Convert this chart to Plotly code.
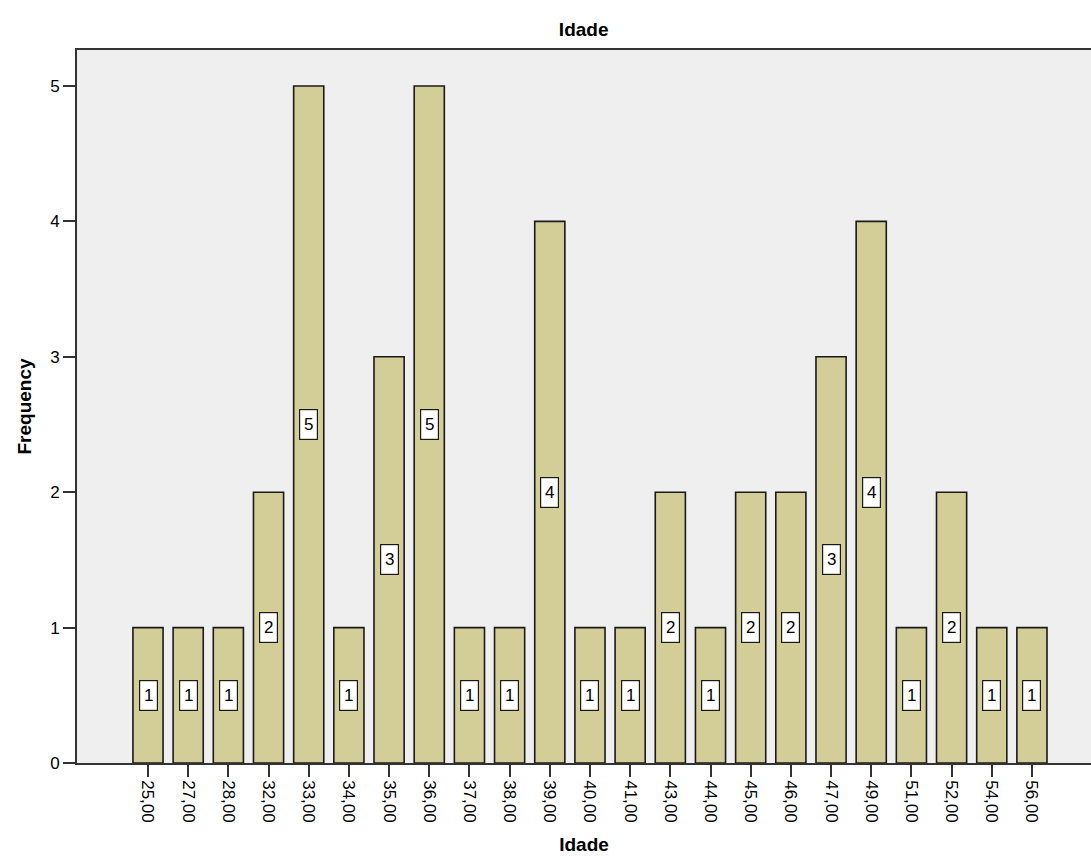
import plotly.graph_objects as go

categories = ["25,00", "27,00", "28,00", "32,00", "33,00", "34,00", "35,00", "36,00",
              "37,00", "38,00", "39,00", "40,00", "41,00", "43,00", "44,00", "45,00",
              "46,00", "47,00", "49,00", "51,00", "52,00", "54,00", "56,00"]
frequency = [1, 1, 1, 2, 5, 1, 3, 5, 1, 1, 4, 1, 1, 2, 1, 2, 2, 3, 4, 1, 2, 1, 1]
y_ticks = [0, 1, 2, 3, 4, 5]

FONT = "Liberation Sans, Arial, sans-serif"

fig = go.Figure()
fig.add_trace(go.Bar(
    x=categories, y=frequency,
    marker=dict(color="#D3CE97", line=dict(color="#1a1a1a", width=1.6)),
    hoverinfo="x+y",
))

for c, v in zip(categories, frequency):
    fig.add_annotation(
        x=c, y=v / 2, text=str(v), showarrow=False,
        font=dict(family=FONT, size=17, color="black"),
        bgcolor="white", bordercolor="#1a1a1a", borderwidth=1.2,
        width=13, height=25, borderpad=2,
    )

fig.update_layout(
    width=1091, height=866,
    margin=dict(l=77, r=0, t=50, b=103, autoexpand=False),
    paper_bgcolor="white", plot_bgcolor="#EFEFEF",
    bargap=0.25,
    showlegend=False,
    font=dict(family=FONT, size=17, color="black"),
    title=dict(text="<b>Idade</b>", x=0.535, xanchor="center", y=0.966, yanchor="middle",
               font=dict(family=FONT, size=19, color="black")),
    xaxis=dict(
        type="category", range=[-1.767, 23.47],
        tickangle=90, ticks="outside", ticklen=12, tickwidth=1.6, tickcolor="#333",
        showline=True, linecolor="#333", linewidth=1.6, mirror=True,
        showgrid=False, zeroline=False,
        tickfont=dict(family=FONT, size=17, color="black"),
        title=dict(text="<b>Idade</b>", font=dict(family=FONT, size=19, color="black"), standoff=16),
    ),
    yaxis=dict(
        range=[0, 5.266], tickvals=y_ticks,
        ticks="outside", ticklen=12, tickwidth=1.6, tickcolor="#333",
        showline=True, linecolor="#333", linewidth=1.6,
        showgrid=False, zeroline=False,
        tickfont=dict(family=FONT, size=17, color="black"),
        title=dict(text="<b>Frequency</b>", font=dict(family=FONT, size=19, color="black"), standoff=14),
    ),
)

fig.write_html("out.html", config={"displayModeBar": False},
               post_script="document.body.style.margin='0';document.body.style.overflow='hidden';")
